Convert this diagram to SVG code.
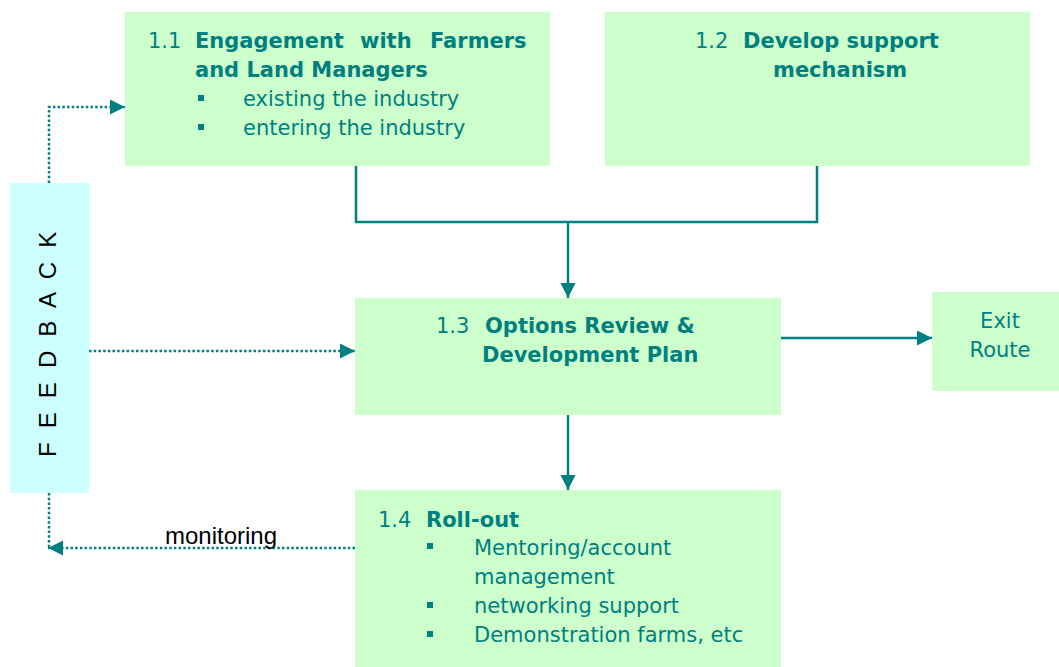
<svg xmlns="http://www.w3.org/2000/svg" width="1059" height="667" viewBox="0 0 1059 667">
<style>
.box{fill:#ccffcc}
.fb{fill:#ccffff}
.t{font-family:"DejaVu Sans",Verdana,sans-serif;font-size:21px;fill:#007f7f}
.b{font-weight:bold}
.blk{font-family:"Liberation Sans",Arial,sans-serif;font-size:24px;fill:#000}
.sq{fill:#007f7f}
.solid{fill:none;stroke:#008080;stroke-width:2.5}
.dot{fill:none;stroke:#008080;stroke-width:2.5;stroke-dasharray:2.5 2.2}
</style>
<defs>
<marker id="ah" markerWidth="16" markerHeight="16" refX="15" refY="7.5" orient="auto" markerUnits="userSpaceOnUse">
<path d="M0,0 L15,7.5 L0,15 z" fill="#008080"/>
</marker>
</defs>
<rect width="1059" height="667" fill="#ffffff"/>

<g id="node-1-1">
<rect class="box" x="125" y="12" width="425" height="154"/>
<text class="t" x="148" y="48">1.1</text>
<text class="t b" y="48"><tspan x="195">Engagement</tspan><tspan x="360">with</tspan><tspan x="430">Farmers</tspan></text>
<text class="t b" x="195" y="77">and Land Managers</text>
<rect class="sq" x="198" y="95" width="6" height="6"/>
<text class="t" x="243" y="106">existing the industry</text>
<rect class="sq" x="198" y="124" width="6" height="6"/>
<text class="t" x="243" y="135">entering the industry</text>
</g>

<g id="node-1-2">
<rect class="box" x="605" y="12" width="425" height="154"/>
<text class="t" x="695" y="48">1.2</text>
<text class="t b" x="743" y="48">Develop support</text>
<text class="t b" x="773" y="77">mechanism</text>
</g>

<g id="node-1-3">
<rect class="box" x="355" y="298" width="426" height="117"/>
<text class="t" x="436" y="333">1.3</text>
<text class="t b" x="485" y="333">Options Review &amp;</text>
<text class="t b" x="482" y="362">Development Plan</text>
</g>

<g id="node-exit">
<rect class="box" x="932" y="292" width="127" height="99"/>
<text class="t" x="1000" y="328" text-anchor="middle">Exit</text>
<text class="t" x="1000" y="357" text-anchor="middle">Route</text>
</g>

<g id="node-1-4">
<rect class="box" x="355" y="490" width="426" height="177"/>
<text class="t" x="378" y="527">1.4</text>
<text class="t b" x="426" y="527">Roll-out</text>
<rect class="sq" x="427" y="543" width="6" height="6"/>
<text class="t" x="474" y="555">Mentoring/account</text>
<text class="t" x="474" y="584">management</text>
<rect class="sq" x="427" y="602" width="6" height="6"/>
<text class="t" x="474" y="613">networking support</text>
<rect class="sq" x="427" y="631" width="6" height="6"/>
<text class="t" x="474" y="642">Demonstration farms, etc</text>
</g>

<g id="node-feedback">
<rect class="fb" x="10" y="183" width="79" height="310"/>
<text class="blk" transform="translate(56,457) rotate(-90)" x="0" y="0" letter-spacing="3.7">F E E D B A C K</text>
</g>

<g id="connectors">
<path class="solid" d="M356,166 V222 H817 V166"/>
<path class="solid" d="M568,222 V298" marker-end="url(#ah)"/>
<path class="solid" d="M781,338 H932" marker-end="url(#ah)"/>
<path class="solid" d="M568,415 V490" marker-end="url(#ah)"/>
<path class="dot" d="M49,183 V107 H125" marker-end="url(#ah)"/>
<path class="dot" d="M89,351 H355" marker-end="url(#ah)"/>
<path class="dot" d="M49,493 V548"/>
<path class="dot" d="M355,548 H48" marker-end="url(#ah)"/>
<text class="blk" x="165" y="544">monitoring</text>
</g>
</svg>
